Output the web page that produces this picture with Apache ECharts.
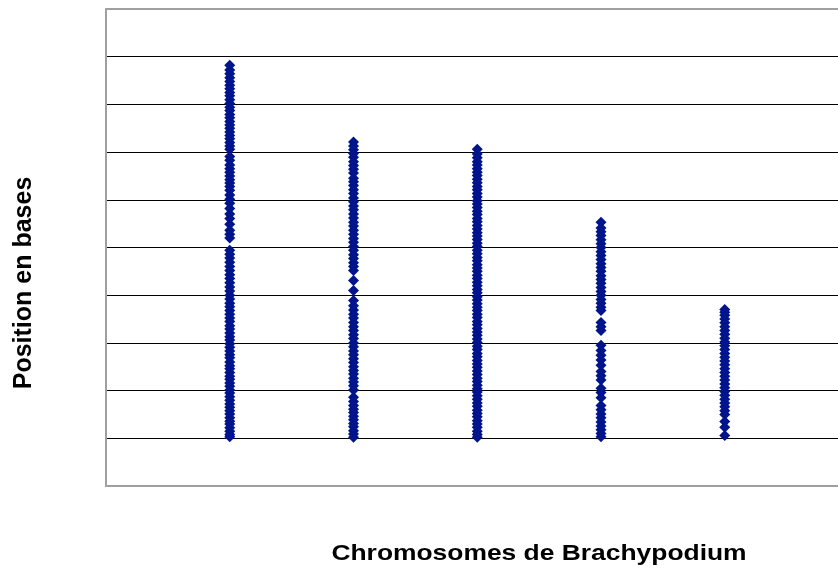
<!DOCTYPE html>
<html>
<head>
<meta charset="utf-8">
<script src="https://cdn.jsdelivr.net/npm/echarts@6/dist/echarts.min.js"></script>
<style>html,body{margin:0;padding:0;background:#fff;}#c{width:838px;height:568px;}</style>
</head>
<body>
<div id="c"></div>
<script>
// Chromosome index (x) and marker positions in Mb (y)
const chromosomes = [1, 2, 3, 4, 5];
const bd1 = [0.3,0.8,1.5,2.2,3.0,3.6,4.3,5.1,5.8,6.5,7.2,8.0,8.7,9.5,10.1,10.9,11.6,12.4,13.0,13.8,14.6,15.2,16.0,16.9,17.5,18.3,19.1,19.8,20.6,21.3,22.1,22.9,23.6,24.5,25.2,26.0,26.8,27.6,28.3,29.2,30.0,30.9,31.7,32.6,33.5,34.3,35.2,36.0,36.9,37.8,38.6,39.4,
  42.0,42.8,43.6,44.9,46.1,47.0,48.2,49.3,50.1,51.0,52.0,52.8,53.5,54.2,55.0,55.8,56.5,57.3,58.3,59.1,
  60.6,61.3,62.0,62.8,63.5,64.2,65.0,65.7,66.4,67.2,67.9,68.7,69.4,70.2,71.0,71.8,72.5,73.3,74.0,74.8,75.6,76.4,77.2,78.2];
const bd2 = [0.2,0.9,1.6,2.4,3.1,3.9,4.6,5.4,6.1,6.9,7.7,8.6,10.1,11.0,11.8,12.6,13.5,14.2,15.0,15.9,16.7,17.5,18.3,19.2,20.0,20.9,21.7,22.6,23.4,24.3,25.2,26.0,26.9,27.8,28.9,
  31.0,33.1,35.2,36.0,36.8,37.7,38.5,39.4,40.2,41.1,41.9,42.8,43.6,44.5,45.3,46.2,47.0,47.9,48.7,49.6,50.4,51.3,52.1,53.0,53.8,54.5,
  55.6,56.4,57.2,58.0,58.9,59.7,60.5,61.3,62.1];
const bd3 = [0.2,0.8,1.5,2.3,3.0,3.7,4.5,5.2,5.9,6.7,7.4,8.2,8.9,9.7,10.4,11.1,11.9,12.6,13.4,14.1,14.9,15.6,16.3,17.1,17.8,18.6,19.3,20.1,20.8,21.6,22.3,23.0,23.8,24.5,25.3,26.0,26.8,27.5,28.2,29.0,29.7,30.5,31.2,32.0,32.7,33.5,34.2,35.0,35.7,36.4,37.2,37.9,38.7,39.4,40.2,40.9,41.7,42.4,43.1,43.9,44.6,45.4,46.1,46.9,47.6,48.4,49.1,49.8,50.6,51.3,52.1,52.8,53.6,54.3,55.1,55.8,56.5,57.3,58.0,58.8,59.6,60.6];
const bd4 = [0.3,1.0,1.8,2.6,3.4,4.3,5.1,6.0,6.9,8.5,9.6,10.5,12.2,13.1,14.0,15.3,16.4,17.4,18.4,19.5,
  22.6,23.4,24.3,
  26.8,27.5,28.3,29.1,30.0,30.8,31.6,32.5,33.3,34.1,35.0,35.8,36.6,37.5,38.3,39.1,40.0,40.8,41.6,42.5,43.3,44.1,45.3];
const bd5 = [0.6,2.3,3.5,5.0,5.8,6.6,7.4,8.2,9.0,9.8,10.6,11.4,12.2,13.0,13.8,14.6,15.4,16.2,17.0,17.8,18.6,19.4,20.2,21.0,21.8,22.6,23.4,24.2,25.0,25.8,26.4,27.0];
const positions = [bd1, bd2, bd3, bd4, bd5];
const xTitle = 'Chromosomes de Brachypodium';
const yTitle = 'Position en bases';

const data = [];
positions.forEach((arr, i) => arr.forEach(v => data.push([chromosomes[i], v])));

const borderLine = {show: true, onZero: false, lineStyle: {color: '#a0a0a0', width: 2}};
const chart = echarts.init(document.getElementById('c'), null, {renderer: 'canvas'});
chart.setOption({
  animation: false,
  backgroundColor: '#fff',
  grid: {left: 106, top: 9, right: 0, height: 477, show: false},
  xAxis: [
    {type: 'value', min: 0, max: 5.915, position: 'bottom',
      axisLine: borderLine, axisTick: {show: false}, axisLabel: {show: false}, splitLine: {show: false}},
    {type: 'value', min: 0, max: 5.915, position: 'top',
      axisLine: borderLine, axisTick: {show: false}, axisLabel: {show: false}, splitLine: {show: false}}
  ],
  yAxis: {type: 'value', min: -10, max: 90, interval: 10,
    axisLine: borderLine, axisTick: {show: false}, axisLabel: {show: false},
    splitLine: {show: true, showMinLine: false, showMaxLine: false, lineStyle: {color: '#000', width: 1}}},
  series: [{type: 'scatter', symbol: 'diamond', symbolSize: 11, data: data, xAxisIndex: 0,
    itemStyle: {color: '#00148c', opacity: 1}}],
  graphic: [
    {type: 'text', x: 539, y: 554, scaleX: 1.2,
      style: {text: xTitle, font: 'bold 22px "Liberation Sans", Arial, sans-serif', fill: '#000', textAlign: 'center', textVerticalAlign: 'middle'}},
    {type: 'text', x: 24, y: 283, rotation: Math.PI / 2,
      style: {text: yTitle, font: 'bold 25px "Liberation Sans", Arial, sans-serif', fill: '#000', textAlign: 'center', textVerticalAlign: 'middle'}}
  ]
});
</script>
</body>
</html>
